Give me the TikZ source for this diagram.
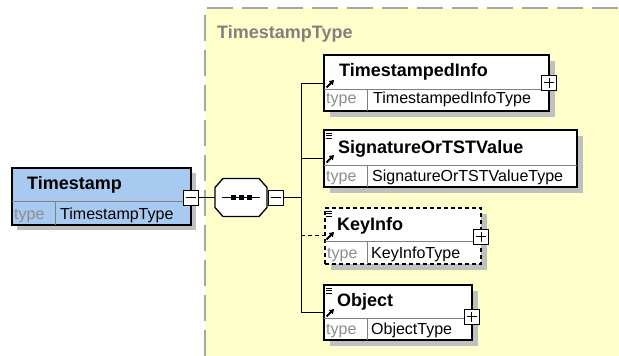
\documentclass[tikz,border=0pt]{standalone}
\usepackage{fontspec}
\setmainfont{Liberation Sans}
\usepackage{tikz}
\usetikzlibrary{positioning}
\usetikzlibrary{arrows.meta}

\definecolor{bgyellow}{RGB}{255,255,204}
\definecolor{elblue}{RGB}{168,202,240}
\definecolor{shadowgray}{RGB}{192,192,192}
\definecolor{typegray}{RGB}{140,140,140}
\definecolor{titlegray}{RGB}{128,128,128}

\begin{document}
\begin{tikzpicture}[x=1pt, y=-1pt,
		elbox/.style={draw=black, line width=1.3pt, fill=white, anchor=north west, inner sep=0, outer sep=0},
		elname/.style={anchor=base west, inner sep=0, font=\fontsize{18}{20}\selectfont\bfseries},
		elkey/.style={anchor=base west, inner sep=0, text=typegray, font=\fontsize{16}{18}\selectfont},
		eltype/.style={anchor=base west, inner sep=0, font=\fontsize{16}{18}\selectfont},
		sepline/.style={draw=gray, line width=0.8pt},
		ctrlbox/.style={draw=black, line width=1pt, fill=white, minimum size=15pt, inner sep=0},
		conn/.style={line width=1pt},
		refarrow/.style={-{Triangle[length=4.5pt,width=5.5pt]}, line width=2pt},
	]
		\useasboundingbox (0,0) rectangle (619,356);
		%\draw[gray,step=10] (0,0) grid (619,356);
		\fill[bgyellow] (205,8) rectangle (619,356);
		\draw[titlegray!70, line width=2pt, dash pattern=on 26pt off 9pt] (205,356) -- (205,8) -- (619,8);
		\node[anchor=base west, inner sep=0, text=titlegray, font=\fontsize{18}{20}\selectfont\bfseries] (title) at (217,38) {TimestampType};

		% root element
		\fill[shadowgray] (17,173) rectangle (196,230);
		\node[elbox, fill=elblue, minimum width=179pt, minimum height=57pt] (ts) at (12,168) {};
		\draw[sepline] (12,201) -- (191,201);
		\draw[sepline] (55,201) -- (55,225);
		\node[elname] (ts-name) at (27,189) {Timestamp};
		\node[elkey] (ts-key) at (14,219) {type};
		\node[eltype] (ts-type) at (60,219) {TimestampType};
		\node[ctrlbox] (tsminus) at (190.5,197.5) {};
		\draw[conn] ([xshift=3pt]tsminus.west) -- ([xshift=-3pt]tsminus.east);

		% sequence
		\node[minimum width=52pt, minimum height=38pt, inner sep=0, outer sep=0] (seq) at (241,197.5) {};
		\draw[line width=1.3pt, fill=white] (223,178.5) -- (259,178.5) -- (267,187.5) -- (267,207.5)
			-- (259,216.5) -- (223,216.5) -- (215,207.5) -- (215,187.5) -- cycle;
		\draw[conn] ([xshift=7pt]seq.west) -- ([xshift=-7pt]seq.east);
		\foreach \dx in {-8,0,8}
			\fill ([xshift=\dx pt]seq.center) +(-2.5pt,-2.5pt) rectangle +(2.5pt,2.5pt);
		\node[ctrlbox] (seqminus) at (276,197.5) {};
		\draw[conn] ([xshift=3pt]seqminus.west) -- ([xshift=-3pt]seqminus.east);
		\draw[conn] (tsminus.east) -- (seq.west);
		\coordinate (bus) at (301,197.5);
		\draw[conn] (seqminus.east) -- (bus);

		% ports
		\coordinate (tsi-port) at (324,83);
		\coordinate (sig-port) at (324,158);
		\coordinate (key-port) at (324,235);
		\coordinate (obj-port) at (324,312);
		\draw[conn] (bus |- tsi-port) -- (bus |- obj-port);
		\draw[conn] (bus |- tsi-port) -- (tsi-port);
		\draw[conn] (bus |- sig-port) -- (sig-port);
		\draw[conn, dash pattern=on 4pt off 3pt] (bus |- key-port) -- (key-port);
		\draw[conn] (bus |- obj-port) -- (obj-port);

		% TimestampedInfo
		\fill[shadowgray] (330,61) rectangle (555,117);
		\node[elbox, minimum width=225pt, minimum height=56pt] (tsi) at (324,55) {};
		\draw[sepline] (324,89) -- (549,89);
		\draw[sepline] (367,89) -- (367,111);
		\node[elname] (tsi-name) at (339,76) {TimestampedInfo};
		\node[elkey] (tsi-key) at (326,103) {type};
		\node[eltype] (tsi-type) at (373,103) {TimestampedInfoType};
		\draw[refarrow] (326.5,87.5) -- (334,80);
		\node[ctrlbox] (tsiplus) at (549,82.5) {};
		\draw[conn] ([xshift=3pt]tsiplus.west) -- ([xshift=-3pt]tsiplus.east);
		\draw[conn] ([yshift=-3pt]tsiplus.north) -- ([yshift=3pt]tsiplus.south);

		% SignatureOrTSTValue
		\fill[shadowgray] (330,136) rectangle (583,193);
		\node[elbox, minimum width=253pt, minimum height=57pt] (sig) at (324,130) {};
		\draw[sepline] (324,165) -- (577,165);
		\draw[sepline] (367,165) -- (367,187);
		\node[elname] (sig-name) at (338,153) {SignatureOrTSTValue};
		\node[elkey] (sig-key) at (326,181) {type};
		\node[eltype] (sig-type) at (372,181) {SignatureOrTSTValueType};
		\draw[refarrow] (326.5,162.5) -- (334,155);
		\foreach \dy in {133,135.5,138}
			\draw[line width=0.8pt] (326,\dy) -- (332,\dy);

		% KeyInfo
		\fill[shadowgray] (331,214) rectangle (487,270);
		\node[elbox, dash pattern=on 4pt off 3pt, minimum width=156pt, minimum height=56pt] (key) at (325,208) {};
		\draw[sepline] (325,241) -- (481,241);
		\draw[sepline] (367,241) -- (367,264);
		\node[elname] (key-name) at (337,230) {KeyInfo};
		\node[elkey] (key-key) at (327,258) {type};
		\node[eltype] (key-type) at (371,258) {KeyInfoType};
		\draw[refarrow] (326.5,239.5) -- (334,232);
		\foreach \dy in {211,213.5,216}
			\draw[line width=0.8pt] (326,\dy) -- (332,\dy);
		\node[ctrlbox] (keyplus) at (481,236.5) {};
		\draw[conn] ([xshift=3pt]keyplus.west) -- ([xshift=-3pt]keyplus.east);
		\draw[conn] ([yshift=-3pt]keyplus.north) -- ([yshift=3pt]keyplus.south);

		% Object
		\fill[shadowgray] (330,291) rectangle (478,346);
		\node[elbox, minimum width=148pt, minimum height=55pt] (obj) at (324,285) {};
		\draw[sepline] (324,318) -- (472,318);
		\draw[sepline] (367,318) -- (367,340);
		\node[elname] (obj-name) at (337,306) {Object};
		\node[elkey] (obj-key) at (326,334) {type};
		\node[eltype] (obj-type) at (371,334) {ObjectType};
		\draw[refarrow] (326.5,316.5) -- (334,309);
		\foreach \dy in {288,290.5,293}
			\draw[line width=0.8pt] (326,\dy) -- (332,\dy);
		\node[ctrlbox] (objplus) at (471.5,316.5) {};
		\draw[conn] ([xshift=3pt]objplus.west) -- ([xshift=-3pt]objplus.east);
		\draw[conn] ([yshift=-3pt]objplus.north) -- ([yshift=3pt]objplus.south);
	\end{tikzpicture}
\end{document}
